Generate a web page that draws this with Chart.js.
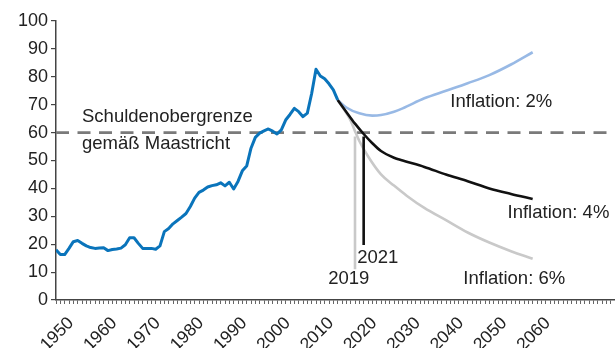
<!DOCTYPE html>
<html>
<head>
<meta charset="utf-8">
<script src="https://cdn.jsdelivr.net/npm/chart.js@4/dist/chart.umd.min.js"></script>
<style>
  html, body { margin: 0; padding: 0; background: #fff; }
  #wrap { width: 615px; height: 348px; }
</style>
</head>
<body>
<div id="wrap"><canvas id="c" width="615" height="348"></canvas></div>
<script>
// Staatsschuldenquote in % des BIP, 1950–2015
const histStart = 1950;
const histValues = [
  18.0, 16.3, 16.3, 18.5, 20.9, 21.3, 20.3, 19.4, 18.8, 18.5,
  18.6, 18.7, 17.7, 18.1, 18.3, 18.6, 19.8, 22.3, 22.3, 20.3,
  18.5, 18.5, 18.5, 18.2, 19.4, 24.5, 25.6, 27.3, 28.5, 29.7,
  31.0, 33.5, 36.5, 38.6, 39.4, 40.5, 41.0, 41.3, 42.0, 40.9,
  42.2, 39.8, 42.5, 46.3, 48.0, 54.4, 58.3, 59.8, 60.6, 61.3,
  60.5, 59.5, 61.0, 64.5, 66.5, 68.7, 67.5, 65.7, 67.0, 74.0,
  82.7, 80.3, 79.3, 77.5, 75.3, 71.7
];
const histYears = histValues.map((_, i) => histStart + i);

// Projektionen 2015–2060 je Inflationsszenario
const projYears2 = [2015, 2017, 2020, 2023, 2025, 2028, 2030, 2035, 2040, 2045, 2050, 2055, 2060];
const infl2 =      [71.7, 69.0, 66.9, 66.1, 66.3, 67.5, 68.7, 72.3, 75.0, 77.7, 80.6, 84.4, 88.8];

const projYears4 = [2015, 2017, 2019, 2021, 2023, 2025, 2028, 2030, 2035, 2040, 2045, 2050, 2055, 2060];
const infl4 =      [71.7, 67.4, 63.2, 59.5, 56.2, 53.4, 51.0, 50.0, 47.7, 45.0, 42.6, 40.0, 38.0, 36.2];

const projYears6 = [2015, 2017, 2018, 2019, 2020, 2022, 2025, 2028, 2031, 2035, 2040, 2045, 2050, 2055, 2060];
const infl6 =      [71.7, 67.0, 64.3, 60.5, 57.0, 51.5, 45.0, 41.0, 37.3, 33.0, 28.6, 24.2, 20.6, 17.5, 14.8];

// Maastricht-Obergrenze
const limitValue = 60;
const limitYears = [1950, 2079];

// Jahr, in dem die Quote unter 60 % fällt, mit Linie bis zur Beschriftung
const crossYear6 = 2019;
const crossRange6 = [58.6, 11.0];
const crossYear4 = 2021;
const crossRange4 = [58.6, 19.7];

const xMin = 1950, xMax = 2079, xLastLabel = 2060;
const yTicks = [0, 10, 20, 30, 40, 50, 60, 70, 80, 90, 100];

const pts = (xs, ys) => xs.map((x, i) => ({ x, y: ys[i] }));

const FONT = '"Liberation Sans", Arial, Helvetica, sans-serif';
const TEXT = '#222';

// Beschriftungen im Diagramm, verankert in Datenkoordinaten
const notes = [
  { text: 'Schuldenobergrenze', x: 1956, y: 65.6 },
  { text: 'gemäß Maastricht', x: 1956, y: 55.9 },
  { text: 'Inflation: 2%', x: 2041.0, y: 71.0 },
  { text: 'Inflation: 4%', x: 2054.2, y: 31.2 },
  { text: 'Inflation: 6%', x: 2044.0, y: 7.5 },
  { text: String(crossYear4), x: 2019.5, y: 15.0 },
  { text: String(crossYear6), x: 2012.8, y: 7.5 }
];

const notePlugin = {
  id: 'notes',
  afterDatasetsDraw(chart) {
    const { ctx, scales: { x, y } } = chart;
    ctx.save();
    ctx.font = '18.5px ' + FONT;
    ctx.fillStyle = TEXT;
    ctx.textAlign = 'left';
    ctx.textBaseline = 'middle';
    notes.forEach(n => ctx.fillText(n.text, x.getPixelForValue(n.x), y.getPixelForValue(n.y)));
    ctx.restore();
  }
};

const base = { pointRadius: 0, pointHoverRadius: 0, fill: false };

new Chart(document.getElementById('c'), {
  type: 'line',
  data: {
    datasets: [
      Object.assign({}, base, {
        label: 'Historisch', data: pts(histYears, histValues),
        borderColor: '#0a74bb', borderWidth: 3, tension: 0, order: 1,
        borderJoinStyle: 'round'
      }),
      Object.assign({}, base, {
        label: 'Inflation 4%', data: pts(projYears4, infl4),
        borderColor: '#111111', borderWidth: 2.6, cubicInterpolationMode: 'monotone', order: 2
      }),
      Object.assign({}, base, {
        label: 'Marke 2021', data: pts([crossYear4, crossYear4], crossRange4),
        borderColor: '#111111', borderWidth: 2.6, order: 3
      }),
      Object.assign({}, base, {
        label: 'Inflation 2%', data: pts(projYears2, infl2),
        borderColor: '#98b9e5', borderWidth: 2.6, cubicInterpolationMode: 'monotone', order: 4
      }),
      Object.assign({}, base, {
        label: 'Inflation 6%', data: pts(projYears6, infl6),
        borderColor: '#c9c9c9', borderWidth: 2.6, cubicInterpolationMode: 'monotone', order: 5
      }),
      Object.assign({}, base, {
        label: 'Marke 2019', data: pts([crossYear6, crossYear6], crossRange6),
        borderColor: '#c9c9c9', borderWidth: 2.6, order: 6
      }),
      Object.assign({}, base, {
        label: 'Obergrenze', data: pts(limitYears, [limitValue, limitValue]),
        borderColor: '#7a7a7a', borderWidth: 2.8, borderDash: [13, 8.5], order: 10
      })
    ]
  },
  options: {
    responsive: false,
    animation: false,
    devicePixelRatio: 1,
    layout: { padding: { top: 21, right: 0, left: 0, bottom: 0 } },
    plugins: { legend: { display: false }, tooltip: { enabled: false } },
    scales: {
      x: {
        type: 'linear', min: xMin, max: xMax,
        border: { display: true, color: '#444', width: 1.5 },
        grid: { drawOnChartArea: false, drawTicks: true, tickLength: 4, color: '#666', lineWidth: 1 },
        ticks: {
          stepSize: 1, autoSkip: false, maxRotation: 45, minRotation: 45, padding: 9, labelOffset: 15,
          color: TEXT, font: { family: FONT, size: 17.5 },
          callback: v => (v % 10 === 0 && v <= xLastLabel) ? String(v) : ''
        },
        afterFit: s => { s.height = 48; s.paddingRight = 0; }
      },
      y: {
        type: 'linear', min: 0, max: 100,
        border: { display: true, color: '#444', width: 1.5 },
        grid: { drawOnChartArea: false, drawTicks: true, tickLength: 5, color: '#444', lineWidth: 1.2 },
        afterBuildTicks: s => { s.ticks = yTicks.map(v => ({ value: v })); },
        ticks: { padding: 3, color: TEXT, font: { family: FONT, size: 18 } },
        afterFit: s => { s.width = 56; }
      }
    }
  },
  plugins: [notePlugin]
});
</script>
</body>
</html>
